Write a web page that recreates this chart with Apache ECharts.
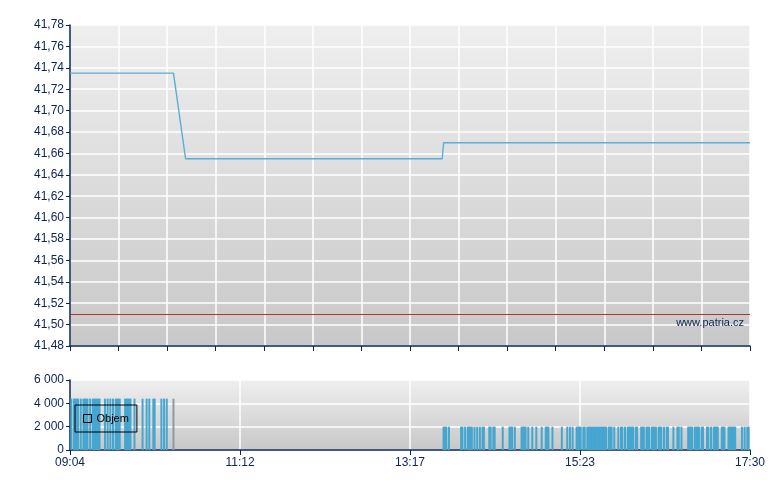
<!DOCTYPE html>
<html>
<head>
<meta charset="utf-8">
<script src="https://cdn.jsdelivr.net/npm/echarts@6/dist/echarts.min.js"></script>
<style>
  html, body { margin: 0; padding: 0; background: #fff; }
  #chart { width: 780px; height: 490px; }
</style>
</head>
<body>
<div id="chart"></div>
<script>
// minutes counted from 09:04 (session 09:04 - 17:30 = 506 min)
var sessionLength = 506;
var timeLabels = ['09:04', '11:12', '13:17', '15:23', '17:30'];

// price line
var priceTimes  = [0, 77, 86, 277, 278, 506];
var priceValues = [41.735, 41.735, 41.655, 41.655, 41.67, 41.67];
var prevClose = 41.51;

// volume bars (Objem)
var tradeTimes = [
  1, 3, 4, 5, 6, 8, 10, 11, 12, 13, 15, 17, 18, 19, 20, 21, 22, 26, 28, 30,
  32, 34, 35, 36, 37, 41, 42, 43, 44, 45, 48, 54, 57, 59, 62, 63, 68, 70, 72, 77,
  278, 279, 280, 282, 291, 292, 294, 296, 297, 298, 299, 301, 303, 305, 307, 308,
  312, 313, 315, 316, 322, 327, 328, 329, 331, 336, 337, 338, 339, 341, 344, 347,
  351, 354, 355, 356, 359, 366, 370, 372, 374, 377, 378, 379, 380, 382, 383, 385,
  386, 387, 388, 389, 390, 391, 392, 393, 394, 395, 396, 397, 398, 399, 401, 402,
  403, 405, 408, 410, 411, 413, 415, 416, 417, 418, 419, 421, 422, 425, 426, 427,
  429, 430, 431, 433, 434, 435, 436, 438, 439, 440, 442, 444, 445, 449, 452, 453,
  455, 460, 461, 462, 463, 465, 466, 467, 468, 470, 471, 474, 475, 477, 479, 480,
  481, 482, 485, 486, 487, 490, 491, 492, 493, 494, 495, 500, 502, 504, 505
];
var tradeVolumes = [
  4400, 4400, 4400, 4400, 4400, 4400, 4400, 4400, 4400, 4400, 4400, 4400, 4400, 4400, 4400, 4400, 4400, 4400, 4400, 4400,
  4400, 4400, 4400, 4400, 4400, 4400, 4400, 4400, 4400, 4400, 4400, 4400, 4400, 4400, 4400, 4400, 4400, 4400, 4400, 4400,
  2000, 2000, 2000, 2000, 2000, 2000, 2000, 2000, 2000, 2000, 2000, 2000, 2000, 2000, 2000, 2000,
  2000, 2000, 2000, 2000, 2000, 2000, 2000, 2000, 2000, 2000, 2000, 2000, 2000, 2000, 2000, 2000,
  2000, 2000, 2000, 2000, 2000, 2000, 2000, 2000, 2000, 2000, 2000, 2000, 2000, 2000, 2000, 2000,
  2000, 2000, 2000, 2000, 2000, 2000, 2000, 2000, 2000, 2000, 2000, 2000, 2000, 2000, 2000, 2000,
  2000, 2000, 2000, 2000, 2000, 2000, 2000, 2000, 2000, 2000, 2000, 2000, 2000, 2000, 2000, 2000,
  2000, 2000, 2000, 2000, 2000, 2000, 2000, 2000, 2000, 2000, 2000, 2000, 2000, 2000, 2000, 2000,
  2000, 2000, 2000, 2000, 2000, 2000, 2000, 2000, 2000, 2000, 2000, 2000, 2000, 2000, 2000, 2000,
  2000, 2000, 2000, 2000, 2000, 2000, 2000, 2000, 2000, 2000, 2000, 2000, 2000, 2000, 2000
];
var greyTrade = 77;

var navy = '#0b2454';
var labelFont = { color: navy, fontFamily: 'Liberation Sans, Arial, sans-serif', fontSize: 12 };

function bg() {
  return new echarts.graphic.LinearGradient(0, 0, 0, 1, [
    { offset: 0, color: '#efefef' },
    { offset: 1, color: '#c8c8c8' }
  ]);
}

var dom = document.getElementById('chart');
var myChart = echarts.init(dom, null, { renderer: 'canvas' });

var priceData = priceTimes.map(function (t, i) { return [t, priceValues[i]]; });
var volData = tradeTimes.map(function (t, i) { return [t, tradeVolumes[i]]; });

var option = {
  animation: false,
  backgroundColor: '#ffffff',
  grid: [
    { left: 70, right: 30, top: 25, height: 321, show: true, backgroundColor: bg(), borderWidth: 0 },
    { left: 70, right: 30, top: 380, height: 70, show: true, backgroundColor: bg(), borderWidth: 0 }
  ],
  legend: {
    left: 75, top: 405,
    padding: [8, 8, 8, 8],
    borderColor: '#000', borderWidth: 1,
    itemWidth: 8, itemHeight: 8, itemGap: 4,
    textStyle: { color: '#000', fontFamily: 'Liberation Sans, Arial, sans-serif', fontSize: 11 },
    data: [{ name: 'Objem', icon: 'rect', itemStyle: { color: 'transparent', borderColor: '#000', borderWidth: 1 } }]
  },
  graphic: [{
    type: 'text', right: 36, top: 317, z: 100,
    style: { text: 'www.patria.cz', fill: navy, font: '11px "Liberation Sans", Arial, sans-serif' }
  }],
  xAxis: [
    {
      type: 'value', gridIndex: 0, min: 0, max: sessionLength, interval: sessionLength / 14,
      axisLine: { lineStyle: { color: navy, width: 1.5 } },
      axisTick: { show: true, length: 5, lineStyle: { color: navy } },
      axisLabel: { show: false },
      splitLine: { show: true, lineStyle: { color: '#ffffff', width: 1.5 } }
    },
    {
      type: 'value', gridIndex: 1, min: 0, max: sessionLength, interval: sessionLength / 4,
      axisLine: { lineStyle: { color: navy, width: 1.5 } },
      axisTick: { show: true, length: 5, lineStyle: { color: navy } },
      axisLabel: Object.assign({ margin: 7, formatter: function (v, i) { return timeLabels[i]; } }, labelFont),
      splitLine: { show: true, lineStyle: { color: '#ffffff', width: 1.5 } }
    }
  ],
  yAxis: [
    {
      type: 'value', gridIndex: 0, min: 41.48, max: 41.78, interval: 0.02,
      axisLine: { show: true, lineStyle: { color: navy, width: 1.5 } },
      axisTick: { show: true, length: 4, lineStyle: { color: navy } },
      axisLabel: Object.assign({ margin: 6, formatter: function (v) { return v.toFixed(2).replace('.', ','); } }, labelFont),
      splitLine: { show: true, lineStyle: { color: '#ffffff', width: 1.5 } }
    },
    {
      type: 'value', gridIndex: 1, min: 0, max: 6000, interval: 2000,
      axisLine: { show: true, lineStyle: { color: navy, width: 1.5 } },
      axisTick: { show: true, length: 4, lineStyle: { color: navy } },
      axisLabel: Object.assign({ margin: 6, formatter: function (v) { return String(v).replace(/\B(?=(\d{3})+(?!\d))/g, ' '); } }, labelFont),
      splitLine: { show: true, lineStyle: { color: '#ffffff', width: 1.5 } }
    }
  ],
  series: [
    {
      name: 'Cena', type: 'line', xAxisIndex: 0, yAxisIndex: 0,
      data: priceData, showSymbol: false, symbol: 'none',
      lineStyle: { color: '#56afd8', width: 1.4 },
      markLine: {
        silent: true, symbol: 'none', label: { show: false },
        lineStyle: { color: '#b03232', width: 1, type: 'solid' },
        data: [{ yAxis: prevClose }]
      }
    },
    {
      name: 'Objem', type: 'bar', xAxisIndex: 1, yAxisIndex: 1,
      data: volData, barWidth: 2,
      itemStyle: {
        color: function (p) { return p.value[0] === greyTrade ? '#8f9aa0' : '#45a6d0'; }
      }
    }
  ]
};

if (option && typeof option === 'object') {
  myChart.setOption(option, true);
}
</script>
</body>
</html>
